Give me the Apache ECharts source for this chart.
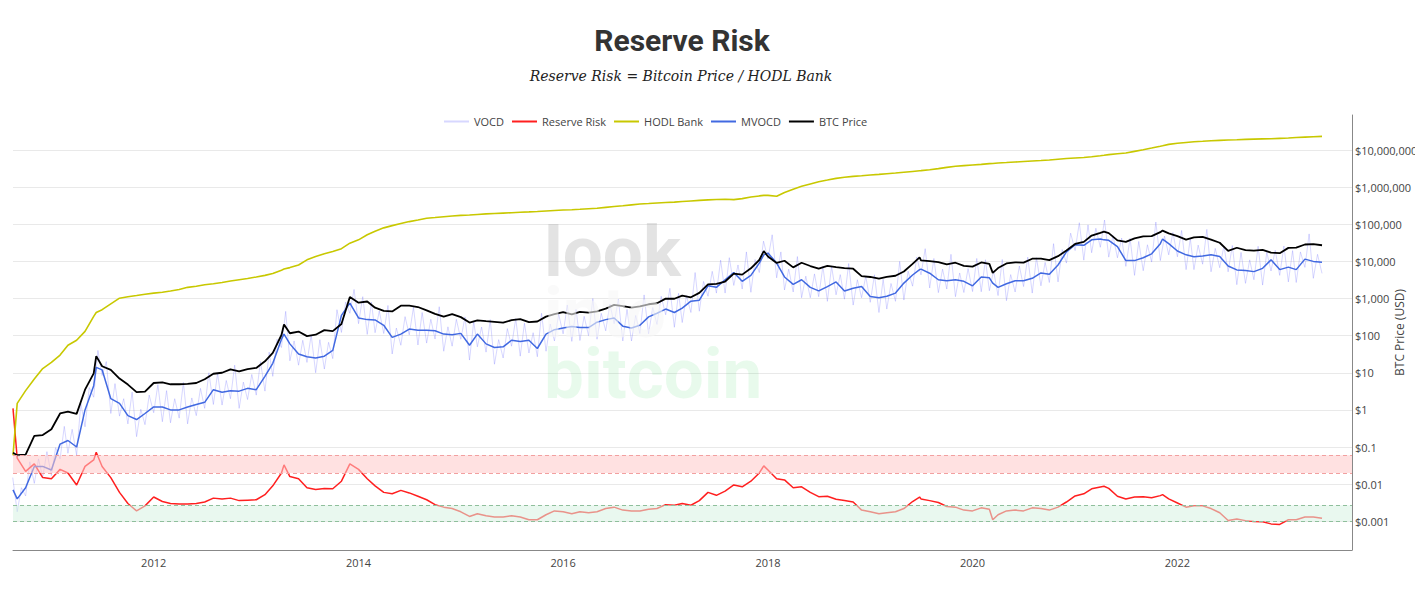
<!DOCTYPE html>
<html><head><meta charset="utf-8">
<script src="https://cdn.jsdelivr.net/npm/echarts@6/dist/echarts.min.js"></script>
<style>html,body{margin:0;padding:0;background:#fff}#c{width:1415px;height:607px}</style>
</head><body><div id="c"></div>
<script>
// ---------- DATA ----------
const dates = [
 '2010-08-17','2010-09-01','2010-10-01','2010-11-01','2010-12-01',
 '2011-01-01','2011-02-01','2011-03-01','2011-04-01','2011-05-01','2011-06-01','2011-06-10','2011-07-01','2011-08-01','2011-09-01','2011-10-01','2011-11-01','2011-12-01',
 '2012-01-01','2012-02-01','2012-03-01','2012-04-01','2012-05-01','2012-06-01','2012-07-01','2012-08-01','2012-09-01','2012-10-01','2012-11-01','2012-12-01',
 '2013-01-01','2013-02-01','2013-03-01','2013-04-01','2013-04-10','2013-05-01','2013-06-01','2013-07-01','2013-08-01','2013-09-01','2013-10-01','2013-11-01','2013-12-01',
 '2014-01-01','2014-02-01','2014-03-01','2014-04-01','2014-05-01','2014-06-01','2014-07-01','2014-08-01','2014-09-01','2014-10-01','2014-11-01','2014-12-01',
 '2015-01-01','2015-02-01','2015-03-01','2015-04-01','2015-05-01','2015-06-01','2015-07-01','2015-08-01','2015-09-01','2015-10-01','2015-11-01','2015-12-01',
 '2016-01-01','2016-02-01','2016-03-01','2016-04-01','2016-05-01','2016-06-01','2016-07-01','2016-08-01','2016-09-01','2016-10-01','2016-11-01','2016-12-01',
 '2017-01-01','2017-02-01','2017-03-01','2017-04-01','2017-05-01','2017-06-01','2017-07-01','2017-08-01','2017-09-01','2017-10-01','2017-11-01','2017-12-01','2017-12-17',
 '2018-01-01','2018-02-01','2018-03-01','2018-04-01','2018-05-01','2018-06-01','2018-07-01','2018-08-01','2018-09-01','2018-10-01','2018-11-01','2018-12-01',
 '2019-01-01','2019-02-01','2019-03-01','2019-04-01','2019-05-01','2019-06-01','2019-06-26','2019-07-01','2019-08-01','2019-09-01','2019-10-01','2019-11-01','2019-12-01',
 '2020-01-01','2020-02-01','2020-03-01','2020-03-13','2020-04-01','2020-05-01','2020-06-01','2020-07-01','2020-08-01','2020-09-01','2020-10-01','2020-11-01','2020-12-01',
 '2021-01-01','2021-02-01','2021-03-01','2021-04-01','2021-04-14','2021-05-01','2021-06-01','2021-07-01','2021-08-01','2021-09-01','2021-10-01','2021-11-01','2021-11-09','2021-12-01',
 '2022-01-01','2022-02-01','2022-03-01','2022-04-01','2022-05-01','2022-06-01','2022-07-01','2022-08-01','2022-09-01','2022-10-01','2022-11-01','2022-12-01',
 '2023-01-01','2023-02-01','2023-03-01','2023-04-01','2023-05-01','2023-06-01'
];

const btcPrice = [
 0.07,0.06,0.062,0.2,0.21,
 0.3,0.8,0.9,0.78,3.5,9.6,28,15,12,7,4.8,3.0,3.1,
 5.3,5.5,4.9,4.9,5.0,5.3,6.7,9.4,10.0,12.4,10.9,12.6,
 13.5,20.4,34.5,104,200,116,129,97,106,141,132,206,1100,
 770,830,565,465,450,640,640,590,480,385,325,380,
 315,225,258,245,235,225,260,280,230,240,325,378,
 430,372,435,416,450,535,675,625,572,610,700,745,
 995,985,1190,1080,1420,2400,2480,2870,4700,4400,6500,10900,19000,
 13500,9100,10400,6900,9200,7500,6400,7600,7000,6600,6350,4000,
 3800,3450,3820,4100,5350,8550,12900,10600,10100,9600,8300,9200,7550,
 7200,9350,8600,4900,6600,8800,9450,9230,11800,11900,10800,13800,19700,
 29400,33500,49600,58800,63500,57800,36700,33500,41500,47100,48100,61300,67500,57000,
 47700,38500,44400,45500,38500,31800,19300,23300,20050,19400,20500,17200,
 16600,23100,23600,28500,29200,27200
];

const mvocd = [
 0.007,0.004,0.008,0.03,0.03,
 0.024,0.12,0.15,0.10,1.0,4.5,14,12,2.0,1.5,0.7,0.55,0.8,
 1.2,1.2,1.0,1.0,1.2,1.4,1.6,3.5,3.0,3.3,3.2,3.8,
 3.5,8,18,80,110,60,32,27,25,28,40,350,750,
 300,270,265,190,90,110,150,140,140,135,110,105,
 115,55,110,60,48,50,75,70,75,45,110,145,
 160,175,165,165,230,270,300,180,160,190,320,400,
 520,420,550,850,900,2200,2000,3200,5000,2900,4200,9000,15000,
 16700,9000,3800,2400,3200,2000,1600,2100,2800,1600,1900,2100,
 1130,1050,1150,1400,2600,4300,6000,6200,4800,3200,3000,3200,2900,
 2200,3800,3600,2600,2000,2500,3000,3000,3500,4900,4500,8000,18000,
 28000,27000,38000,40000,38000,37000,25000,10500,10500,12500,16000,30000,40000,30000,
 19000,15000,13400,14000,15000,13500,7500,5900,5700,5300,6500,11000,
 6000,7000,6000,11500,10000,9500
];

const hodlBank = [
 0.06,1.5,3.3,6.8,13,
 19,30,55,75,130,330,420,500,720,1020,1120,1200,1300,
 1400,1480,1600,1750,2000,2150,2350,2500,2700,2950,3200,3450,
 3800,4200,4700,5800,6200,6800,8000,11000,13500,16000,18500,22000,31000,
 38000,52000,65000,80000,92000,105000,118000,130000,145000,152000,160000,167000,
 173000,178000,184000,190000,195000,200000,205000,210000,215000,221000,228000,235000,
 242000,247000,254000,262000,270000,285000,300000,315000,333000,350000,362000,375000,
 385000,395000,410000,425000,440000,455000,465000,470000,460000,490000,540000,580000,600000,
 600000,570000,720000,880000,1050000,1220000,1400000,1550000,1720000,1850000,1950000,2030000,
 2120000,2210000,2300000,2400000,2520000,2650000,2760000,2780000,2950000,3150000,3400000,3650000,3800000,
 3950000,4100000,4300000,4350000,4480000,4600000,4750000,4900000,5050000,5200000,5400000,5650000,5900000,
 6100000,6300000,6600000,7000000,7200000,7500000,7900000,8300000,9200000,10200000,11300000,12600000,13000000,14200000,
 15200000,16000000,16700000,17200000,17800000,18200000,18600000,18900000,19300000,19600000,19900000,20100000,
 20600000,21100000,21700000,22300000,22800000,23300000
];

const reserveRisk = [
 1.1,0.05,0.022,0.035,0.015,
 0.014,0.025,0.02,0.0095,0.03,0.045,0.072,0.03,0.015,0.006,0.003,0.0019,0.0026,
 0.0045,0.0034,0.003,0.0029,0.0029,0.003,0.0033,0.0042,0.004,0.0042,0.0036,0.0037,
 0.0038,0.0052,0.009,0.02,0.033,0.016,0.014,0.008,0.0072,0.0076,0.0075,0.012,0.035,
 0.025,0.014,0.009,0.006,0.0055,0.0068,0.0058,0.0047,0.0038,0.0028,0.0024,0.0022,
 0.0018,0.00135,0.0016,0.0014,0.0013,0.0013,0.0014,0.0013,0.0011,0.0011,0.0015,0.0019,
 0.0018,0.0016,0.0018,0.0017,0.0018,0.0022,0.0024,0.002,0.0019,0.0019,0.0021,0.0022,
 0.0028,0.0027,0.003,0.0027,0.0036,0.006,0.005,0.0065,0.0095,0.0085,0.012,0.02,0.031,
 0.024,0.014,0.013,0.008,0.0085,0.006,0.0046,0.0047,0.0039,0.0036,0.0033,0.002,
 0.0018,0.0016,0.0017,0.0018,0.0022,0.0034,0.0045,0.004,0.0036,0.0032,0.0025,0.0024,0.002,
 0.0019,0.0023,0.0021,0.0011,0.0015,0.0019,0.002,0.0019,0.0023,0.0022,0.002,0.0024,0.0033,
 0.0048,0.0055,0.0075,0.0084,0.0088,0.0077,0.0047,0.004,0.0045,0.0046,0.0043,0.0049,0.0052,0.004,
 0.0031,0.0024,0.0026,0.0026,0.0022,0.0017,0.00105,0.00115,0.00104,0.00099,0.00097,0.00085,
 0.00082,0.0011,0.0011,0.0013,0.0013,0.0012
];

// VOCD, twice a month (1st and 16th), from 2010-08-16 to 2023-06-01
const vocd = [
 0.015,0.0018,0.008,0.0048,0.04,0.0105,0.048,0.015,0.075,
 0.017,0.096,0.048,0.36,0.068,0.3,0.06,1.5,0.35,4,2.2,40,8.4,20,0.8,5.1,0.68,2,0.42,3,0.19,1.04,0.4,2.5,
 0.84,4.8,0.48,3.3,0.45,2,0.6,5.5,0.42,2.1,0.7,3.8,1.1,10,1.4,9.6,1.35,6.2,2,16,1.1,5.6,1.9,9,
 2.5,20,3.2,36,8,80,48,450,21,72,16,75,19,104,10,78,12.6,66,24,500,122,800,400,1750,
 210,1120,108,800,120,460,114,650,32,160,55,325,105,580,56,420,63,276,81,600,38,173,52,275,
 80,320,22,240,50,170,36,270,17,78,25,155,52,290,28,216,34,120,27,400,38,205,72,380,
 112,670,70,510,74,330,99,1000,80,400,135,710,210,960,72,510,72,350,114,1250,112,576,200,1150,
 364,1880,168,1380,225,1200,420,5000,455,2880,1150,5400,1400,10800,1400,12600,2250,8000,1800,18000,1470,11200,5000,35000,
 11700,52000,3600,18000,1700,6200,1500,13500,1050,4000,1050,4600,1120,7400,840,7350,1260,4400,960,8750,665,3200,1050,4000,
 790,4360,420,3300,520,2540,840,10000,910,5440,2150,13000,4340,22000,1920,12000,1440,6200,1800,15500,1120,4880,1450,6400,
 1540,12000,1520,11100,1620,5600,1200,11250,875,4400,1500,7500,2100,13000,1400,12600,2200,9400,2700,30000,2800,20800,9000,57500,
 19600,110000,10800,96000,17100,78000,24000,130000,13000,49600,12500,42500,7350,42000,4200,34500,5600,28000,9600,115000,10500,48000,15000,60000,
 13300,68000,6000,42000,6000,27400,8400,72500,5250,22400,6750,26000,5250,26800,2360,17400,2560,11000,3200,25500,2300,17600,5500,20000,
 4200,26000,2800,19500,2700,18000,6900,55000,3500,15500,4750
];

const seriesNames = ['VOCD','Reserve Risk','HODL Bank','MVOCD','BTC Price'];
const xTickYears = [2012,2014,2016,2018,2020,2022];
const yTickLabels = ['$0.001','$0.01','$0.1','$1','$10','$100','$1,000','$10,000','$100,000','$1,000,000','$10,000,000'];
const redBand = [0.02, 0.06];
const greenBand = [0.001, 0.0027];
const xRange = ['2010-08-17', '2023-09-16'];

// ---------- BUILD ----------
const ms = s => Date.parse(s + 'T00:00:00Z');
const vocdDates = [];
for (let y = 2010; y <= 2023; y++) {
  for (let m = 1; m <= 12; m++) {
    for (const d of [1, 16]) {
      const s = y + '-' + String(m).padStart(2, '0') + '-' + String(d).padStart(2, '0');
      if (s >= '2010-08-16' && s <= '2023-06-01') vocdDates.push(s);
    }
  }
}
const toData = (ds, vs) => ds.map((d, i) => [ms(d), Math.log10(vs[i])]);
const L = Math.log10;

const chart = echarts.init(document.getElementById('c'), null, { renderer: 'svg' });
const lineBase = { type: 'line', symbol: 'none', showSymbol: false, animation: false };

chart.setOption({
  animation: false,
  textStyle: { fontFamily: '"Open Sans", sans-serif' },
  grid: { left: 13, right: 63, top: 115, bottom: 57, containLabel: false, outerBoundsMode: 'none' },
  legend: {
    data: seriesNames, left: 444, top: 116, padding: 0,
    icon: 'rect', itemWidth: 25, itemHeight: 2, itemGap: 8,
    textStyle: { fontSize: 11, color: '#444', fontFamily: '"Open Sans", sans-serif' }
  },
  xAxis: {
    type: 'value', min: ms(xRange[0]), max: ms(xRange[1]),
    axisLine: { show: true, onZero: false, lineStyle: { color: '#888', width: 1 } },
    axisTick: { show: false },
    splitLine: { show: false },
    axisLabel: {
      customValues: xTickYears.map(y => ms(y + '-01-01')),
      formatter: v => String(new Date(v).getUTCFullYear()),
      color: '#444', fontSize: 11, margin: 7
    }
  },
  yAxis: {
    type: 'value', position: 'right', min: -3.774, max: 7.943,
    minInterval: 1, maxInterval: 1,
    axisLine: { show: true, onZero: false, lineStyle: { color: '#888', width: 1 } },
    axisTick: { show: false },
    splitLine: { show: true, showMinLine: false, showMaxLine: false, lineStyle: { color: '#e9e9e9', width: 1 } },
    axisLabel: {
      showMinLabel: false, showMaxLabel: false, margin: 3,
      color: '#444', fontSize: 11,
      formatter: v => { const p = Math.round(v); if (Math.abs(v - p) > 1e-6) return ''; return yTickLabels[p + 3] || ''; }
    },
    name: 'BTC Price (USD)', nameLocation: 'middle', nameRotate: 90, nameGap: 41, nameMoveOverlap: false,
    nameTextStyle: { fontSize: 12, color: '#444' }
  },
  series: [
    Object.assign({}, lineBase, { name: 'VOCD', data: toData(vocdDates, vocd), z: 1,
      lineStyle: { width: 1, color: 'rgba(110,110,255,0.28)' }, itemStyle: { color: 'rgba(110,110,255,0.28)' } }),
    Object.assign({}, lineBase, { name: 'Reserve Risk', data: toData(dates, reserveRisk), z: 2,
      lineStyle: { width: 1.5, color: '#ff1f1f' }, itemStyle: { color: '#ff1f1f' } }),
    Object.assign({}, lineBase, { name: 'HODL Bank', data: toData(dates, hodlBank), z: 2,
      lineStyle: { width: 1.6, color: '#c8c800' }, itemStyle: { color: '#c8c800' } }),
    Object.assign({}, lineBase, { name: 'MVOCD', data: toData(dates, mvocd), z: 2,
      lineStyle: { width: 1.5, color: '#4169e1' }, itemStyle: { color: '#4169e1' } }),
    Object.assign({}, lineBase, { name: 'BTC Price', data: toData(dates, btcPrice), z: 2,
      lineStyle: { width: 1.8, color: '#000' }, itemStyle: { color: '#000' } }),
    Object.assign({}, lineBase, { name: 'bands', data: [], z: 3,
      markArea: { silent: true, z: 3, label: { show: false },
        data: [
          [{ yAxis: L(redBand[1]), itemStyle: { color: 'rgba(255,200,200,0.55)' } }, { yAxis: L(redBand[0]) }],
          [{ yAxis: L(greenBand[1]), itemStyle: { color: 'rgba(215,242,225,0.55)' } }, { yAxis: L(greenBand[0]) }]
        ] },
      markLine: { silent: true, symbol: ['none', 'none'], label: { show: false },
        lineStyle: { type: [4, 3], width: 1 },
        data: [
          { yAxis: L(redBand[1]), lineStyle: { color: '#f2a0a0', type: [4, 3], width: 1 } },
          { yAxis: L(redBand[0]), lineStyle: { color: '#f2a0a0', type: [4, 3], width: 1 } },
          { yAxis: L(greenBand[1]), lineStyle: { color: '#8fbf9c', type: [4, 3], width: 1 } },
          { yAxis: L(greenBand[0]), lineStyle: { color: '#8fbf9c', type: [4, 3], width: 1 } }
        ] } })
  ],
  graphic: [
    { type: 'text', x: 682, y: 40, z: 10, style: { text: 'Reserve Risk', font: 'bold 30px Roboto', fill: '#333',
      align: 'center', verticalAlign: 'middle', textAlign: 'center', textVerticalAlign: 'middle' } },
    { type: 'text', x: 681, y: 76, z: 10, style: { text: 'Reserve Risk = Bitcoin Price / HODL Bank', font: 'italic 14px "DejaVu Serif"', fill: '#222',
      align: 'center', verticalAlign: 'middle', textAlign: 'center', textVerticalAlign: 'middle' } },
    { type: 'text', x: 544, y: 221, z: 100, silent: true, style: {
      text: '{a|look}\n{b|into}\n{c|bitcoin}',
      align: 'left', verticalAlign: 'top', textAlign: 'left', textVerticalAlign: 'top',
      rich: {
        a: { fontFamily: 'Roboto', fontWeight: 'bold', fontSize: 71, lineHeight: 61, fill: 'rgba(150,150,150,0.27)', color: 'rgba(150,150,150,0.27)' },
        b: { fontFamily: 'Roboto', fontWeight: 'bold', fontSize: 71, lineHeight: 61, fill: 'rgba(246,246,246,0.6)', color: 'rgba(246,246,246,0.6)' },
        c: { fontFamily: 'Roboto', fontWeight: 'bold', fontSize: 71, lineHeight: 61, fill: 'rgba(80,220,110,0.13)', color: 'rgba(80,220,110,0.13)' }
      } } }
  ]
});
</script>
</body></html>
